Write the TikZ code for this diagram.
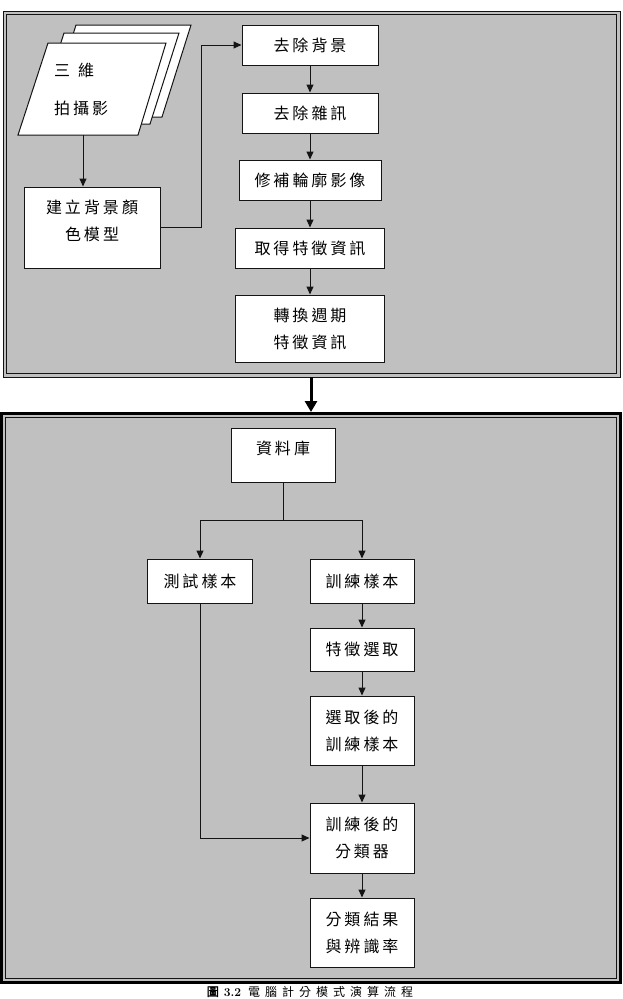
\documentclass[tikz,border=0pt]{standalone}
\usepackage{fontspec}
\newfontfamily\cjk{Noto Sans CJK TC}
\newfontfamily\cjkfb[FakeBold=2]{Noto Sans CJK TC}
\usetikzlibrary{arrows.meta}
\definecolor{panel}{RGB}{192,192,192}
\definecolor{edge}{RGB}{20,20,20}
\newlength\chargap
\setlength\chargap{3pt}
\def\lsp#1{\lspaux#1\relax}
\def\lspaux#1#2{#1\ifx\relax#2\else\hskip\chargap\relax\expandafter\lspaux\fi#2}
\tikzset{
  box/.style={draw=edge, line width=1pt, fill=white, inner sep=0pt, align=center,
    font=\cjk\fontsize{16}{27}\selectfont},
  txt/.style={inner sep=0pt, align=center, font=\cjk\fontsize{16}{27}\selectfont},
  arr/.style={draw=edge, line width=1pt, -{Triangle[length=8pt,width=7pt]}},
  pg/.style={draw=edge, line width=1pt, fill=white},
}
\begin{document}
\begin{tikzpicture}[x=1pt,y=-1pt]
\useasboundingbox (0,0) rectangle (623,999);
\clip (0,0) rectangle (623,999);
\fill[white] (0,0) rectangle (623,999);

% ---------- top panel ----------
\fill[panel] (3,11) rectangle (620,377);
\draw[edge, line width=1pt] (3,11) rectangle (620,377);
\draw[edge, line width=1pt] (6.5,14.5) rectangle (616.5,373.5);

% stacked photos
\draw[pg] (47,117) -- (76,25) -- (191,25) -- (162,117) -- cycle;
\draw[pg] (35,124) -- (64,33) -- (179,33) -- (150,124) -- cycle;
\draw[pg] (18,135) -- (48,43) -- (166,43) -- (138,135) -- cycle;
\node[txt, anchor=west] (p1) at (54,70) {三\hspace{8pt}維};
\node[txt, anchor=west] (p2) at (54,108) {\lsp{拍攝影}};
\coordinate (photo) at (83,135);

\node[box, minimum width=136pt, minimum height=81pt] (model) at (92,227.5) {};
\node[txt] (modelt) at (92,220.5) {\lsp{建立背景顏}\\\lsp{色模型}};

\node[box, minimum width=136pt, minimum height=40pt] (bg) at (310,45) {\lsp{去除背景}};
\node[box, minimum width=136pt, minimum height=40pt] (dn) at (310,113) {\lsp{去除雜訊}};
\node[box, minimum width=142pt, minimum height=40pt] (fix) at (310,180) {\lsp{修補輪廓影像}};
\node[box, minimum width=149pt, minimum height=40pt] (feat) at (310,248) {\lsp{取得特徵資訊}};
\node[box, minimum width=149pt, minimum height=67pt] (conv) at (310,328.5) {\lsp{轉換週期}\\\lsp{特徵資訊}};

\draw[arr] (photo) -- (photo |- model.north);
\draw[arr] (model.east) -- ++(41,0) |- (bg.west);
\draw[arr] (bg) -- (dn);
\draw[arr] (dn) -- (fix);
\draw[arr] (fix) -- (feat);
\draw[arr] (feat) -- (conv);

% ---------- bottom panel ----------
\fill[panel] (1.5,413.5) rectangle (620.5,982.5);
\draw[black, line width=3pt] (1.5,413.5) rectangle (620.5,982.5);
\draw[edge, line width=1pt] (5.5,417.5) rectangle (616.5,978.5);

\coordinate (topout) at (311,377);
\coordinate (botin) at (311,412);
\draw[black, line width=3pt, -{Triangle[length=11pt,width=12pt]}] (topout) -- (botin);

\node[box, minimum width=104pt, minimum height=54pt] (db) at (283,455) {};
\node[txt] (dbt) at (283,448) {\lsp{資料庫}};
\node[box, minimum width=105pt, minimum height=44pt] (test) at (200,581) {\lsp{測試樣本}};
\node[box, minimum width=104pt, minimum height=44pt] (train) at (362,581) {\lsp{訓練樣本}};
\node[box, minimum width=104pt, minimum height=43pt] (sel) at (362,649.5) {\lsp{特徵選取}};
\node[box, minimum width=104pt, minimum height=69pt] (seltrain) at (362,730.5) {\lsp{選取後的}\\\lsp{訓練樣本}};
\node[box, minimum width=104pt, minimum height=70pt] (clf) at (362,838) {\lsp{訓練後的}\\\lsp{分類器}};
\node[box, minimum width=104pt, minimum height=69pt] (res) at (362,932.5) {\lsp{分類結果}\\\lsp{與辨識率}};

\draw[arr] (db.south) -- ++(0,38) -| (test.north);
\draw[arr] (db.south) -- ++(0,38) -| (train.north);
\draw[arr] (train) -- (sel);
\draw[arr] (sel) -- (seltrain);
\draw[arr] (seltrain) -- (clf);
\draw[arr] (test.south) |- (clf.west);
\draw[arr] (clf) -- (res);

% ---------- caption ----------
\node[inner sep=0pt, anchor=base, font=\fontsize{12}{14}\selectfont] (cap) at (310,996)
  {{\cjkfb 圖}\hspace{5pt}\textbf{3.2}\hspace{7pt}{\cjk\setlength\chargap{5pt}\lsp{電腦計分模式演算流程}}};
\end{tikzpicture}
\end{document}
